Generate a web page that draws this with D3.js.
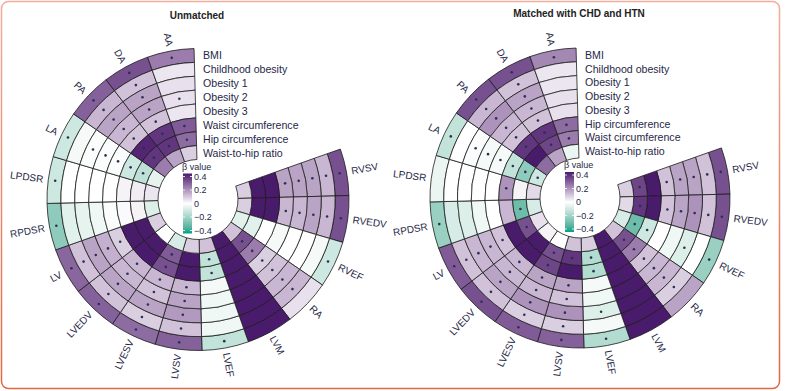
<!DOCTYPE html>
<html>
<head>
<meta charset="utf-8">
<script src="https://cdn.jsdelivr.net/npm/d3@7"></script>
<style>
  body { margin: 0; background: #fff; }
  svg { display: block; font-family: "Liberation Sans", Arial, sans-serif; }
</style>
</head>
<body>
<div id="chart"></div>
<script>
// Circular heatmaps: beta of obesity traits on cardiac measures

// Sectors, clockwise from the gap
var columns = ["RVSV", "RVEDV", "RVEF", "RA", "LVM", "LVEF", "LVSV", "LVESV",
               "LVEDV", "LV", "RPDSR", "LPDSR", "LA", "PA", "DA", "AA"];

// Rings, outermost first
var unmatchedRows = ["BMI", "Childhood obesity", "Obesity 1", "Obesity 2", "Obesity 3",
                     "Waist circumference", "Hip circumference", "Waist-to-hip ratio"];
var matchedRows = ["BMI", "Childhood obesity", "Obesity 1", "Obesity 2", "Obesity 3",
                   "Hip circumference", "Waist circumference", "Waist-to-hip ratio"];

// beta values, one array per ring, in column order
var unmatchedBeta = [
  [0.30, 0.30, -0.10, 0.05, 0.42, -0.12, 0.27, 0.25, 0.27, 0.26, -0.22, -0.10, -0.10, 0.27, 0.30, 0.22],
  [0.12, 0.12, -0.02, 0.12, 0.42, -0.03, 0.10, 0.08, 0.10, 0.10, -0.06, 0.00, -0.02, 0.12, 0.10, 0.04],
  [0.15, 0.15, 0.00, 0.12, 0.42, -0.03, 0.17, 0.15, 0.15, 0.15, -0.05, 0.00, -0.01, 0.15, 0.15, 0.05],
  [0.15, 0.12, 0.00, 0.10, 0.42, -0.03, 0.15, 0.10, 0.12, 0.13, -0.03, 0.00, -0.01, 0.12, 0.15, 0.05],
  [0.15, 0.12, -0.02, 0.08, 0.42, -0.02, 0.12, 0.12, 0.12, 0.08, -0.01, 0.00, -0.01, 0.10, 0.10, 0.04],
  [0.42, 0.42, 0.00, 0.22, 0.42, -0.12, 0.42, 0.30, 0.42, 0.42, 0.01, 0.02, -0.10, 0.38, 0.35, 0.28],
  [0.42, 0.42, -0.06, 0.30, 0.42, -0.12, 0.42, 0.28, 0.42, 0.42, 0.02, 0.03, -0.13, 0.35, 0.35, 0.25],
  [0.08, 0.08, -0.06, 0.10, 0.42, 0.10, 0.08, -0.08, 0.00, 0.08, -0.07, 0.04, -0.05, 0.22, 0.15, 0.08]
];
var unmatchedSig = [
  [1,1,1,0,1,1,1,1,1,1,1,1,1,1,1,1],
  [1,1,0,1,1,0,1,1,1,1,0,0,0,1,1,0],
  [1,1,0,1,1,0,1,1,1,1,0,0,1,1,1,0],
  [1,1,0,1,1,0,1,1,1,1,0,0,1,1,1,1],
  [1,1,0,1,1,0,1,1,1,1,0,0,1,1,1,0],
  [1,1,0,1,1,1,1,1,1,1,0,0,1,1,1,1],
  [1,1,0,1,1,1,1,1,1,1,0,0,1,1,1,1],
  [0,0,0,0,1,0,0,0,0,0,0,0,0,0,0,0]
];

var matchedBeta = [
  [0.30, 0.30, -0.20, 0.15, 0.42, -0.15, 0.27, 0.28, 0.30, 0.28, -0.20, -0.04, -0.12, 0.30, 0.30, 0.20],
  [0.10, 0.10, 0.00, 0.08, 0.42, -0.02, 0.08, 0.08, 0.10, 0.10, -0.08, 0.00, 0.00, 0.12, 0.10, 0.04],
  [0.15, 0.18, -0.07, 0.12, 0.42, -0.07, 0.18, 0.18, 0.15, 0.12, -0.07, 0.00, -0.01, 0.18, 0.15, 0.04],
  [0.15, 0.15, -0.03, 0.12, 0.42, -0.03, 0.10, 0.12, 0.12, 0.12, -0.03, 0.00, -0.02, 0.12, 0.12, 0.05],
  [0.10, 0.10, 0.00, 0.10, 0.42, -0.02, 0.15, 0.15, 0.12, 0.10, 0.00, 0.00, -0.02, 0.10, 0.10, 0.05],
  [0.42, 0.42, -0.10, 0.22, 0.42, -0.15, 0.42, 0.32, 0.42, 0.42, 0.12, 0.18, -0.12, 0.35, 0.35, 0.25],
  [0.32, 0.35, -0.28, 0.30, 0.42, -0.15, 0.35, 0.30, 0.40, 0.30, -0.28, 0.02, -0.22, 0.42, 0.32, 0.22],
  [0.08, 0.06, -0.08, 0.10, 0.42, 0.08, 0.10, 0.00, 0.02, 0.05, -0.08, 0.06, -0.10, 0.25, 0.15, -0.04]
];
var matchedSig = [
  [1,1,1,0,1,1,1,1,1,1,1,0,1,1,1,1],
  [1,1,0,1,1,0,1,1,1,1,0,0,0,1,1,0],
  [1,1,1,1,1,1,1,1,1,1,0,0,1,1,1,0],
  [1,1,0,1,1,0,1,1,1,1,0,0,1,1,1,0],
  [1,1,0,1,1,0,1,1,1,1,0,0,1,1,1,0],
  [1,1,1,1,1,1,1,1,1,1,0,1,1,1,1,1],
  [1,1,1,1,1,1,1,1,1,1,1,0,1,1,1,1],
  [0,0,0,0,1,0,0,0,0,0,0,0,1,0,0,0]
];

var legendTicks = [0.4, 0.2, 0, -0.2, -0.4];

var width = 787, height = 391;
var textColor = "#1f2847";

var svg = d3.select("#chart").append("svg")
    .attr("width", width)
    .attr("height", height);

var defs = svg.append("defs");

// frame round both panels
var frameGrad = defs.append("linearGradient")
    .attr("id", "frameGrad")
    .attr("x1", 0).attr("y1", 0).attr("x2", 0).attr("y2", 1);
frameGrad.append("stop").attr("offset", "0%").attr("stop-color", "#f3ad9c");
frameGrad.append("stop").attr("offset", "100%").attr("stop-color", "#e2673f");

svg.append("rect")
    .attr("x", 1.5).attr("y", 1.5)
    .attr("width", 778).attr("height", 387)
    .attr("rx", 7)
    .attr("fill", "none")
    .attr("stroke", "url(#frameGrad)")
    .attr("stroke-width", 1.5);

var color = d3.scaleLinear()
    .domain([-0.4, 0, 0.4])
    .range(["#00a088", "#ffffff", "#4a1a6c"])
    .interpolate(d3.interpolateLab)
    .clamp(true);

// legend gradient (top = 0.4)
var legGrad = defs.append("linearGradient")
    .attr("id", "legGrad")
    .attr("x1", 0).attr("y1", 0).attr("x2", 0).attr("y2", 1);
d3.range(0, 1.0001, 0.1).forEach(function(t) {
  legGrad.append("stop")
      .attr("offset", (t * 100) + "%")
      .attr("stop-color", color(0.4 - 0.8 * t));
});

var deg = Math.PI / 180;

function drawPanel(p) {
  var g = svg.append("g").attr("transform", `translate(${p.cx},${p.cy})`);

  var angle = d3.scaleBand()
      .domain(columns)
      .range([70.5 * deg, 358.5 * deg]);

  var radius = d3.scaleBand()
      .domain(p.rows)
      .range([p.outer, p.inner]);

  var cells = [];
  p.rows.forEach(function(row, i) {
    columns.forEach(function(col, j) {
      cells.push({ row: row, col: col, value: p.beta[i][j], sig: p.sig[i][j] });
    });
  });

  var arc = d3.arc()
      .innerRadius(d => radius(d.row))
      .outerRadius(d => radius(d.row) + radius.bandwidth())
      .startAngle(d => angle(d.col))
      .endAngle(d => angle(d.col) + angle.bandwidth());

  g.selectAll("path.cell")
      .data(cells)
      .enter()
      .append("path")
      .attr("class", "cell")
      .attr("d", arc)
      .attr("fill", d => color(d.value))
      .attr("stroke", "#1c1c1c")
      .attr("stroke-width", 0.8);

  // significance dots
  g.selectAll("circle.sig")
      .data(cells.filter(d => d.sig))
      .enter()
      .append("circle")
      .attr("class", "sig")
      .attr("cx", d => arc.centroid(d)[0])
      .attr("cy", d => arc.centroid(d)[1])
      .attr("r", 1.3)
      .attr("fill", "#2c3152");

  // ring labels in the gap
  g.selectAll("text.rowLabel")
      .data(p.rows)
      .enter()
      .append("text")
      .attr("class", "rowLabel")
      .attr("x", 5)
      .attr("y", d => -(radius(d) + radius.bandwidth() / 2))
      .attr("dominant-baseline", "central")
      .attr("font-size", 10.6)
      .attr("fill", textColor)
      .text(d => d);

  // sector labels outside
  g.selectAll("text.colLabel")
      .data(columns)
      .enter()
      .append("text")
      .attr("class", "colLabel")
      .attr("transform", function(d) {
        var a = angle(d) + angle.bandwidth() / 2;
        var r = p.outer + 5;
        var x = Math.sin(a) * r, y = -Math.cos(a) * r;
        var dg = a / deg;
        var rot = dg < 180 ? dg - 90 : dg - 270;
        return `translate(${x},${y})rotate(${rot})`;
      })
      .attr("text-anchor", function(d) {
        var dg = (angle(d) + angle.bandwidth() / 2) / deg;
        return dg < 180 ? "start" : "end";
      })
      .attr("dominant-baseline", "central")
      .attr("font-size", 10)
      .attr("fill", textColor)
      .text(d => d);

  // title
  svg.append("text")
      .attr("x", p.titleX)
      .attr("y", p.titleY)
      .attr("text-anchor", "middle")
      .attr("font-size", 10)
      .attr("font-weight", "bold")
      .attr("fill", "#222")
      .text(p.title);

  // legend in the hole
  var legY = d3.scaleLinear().domain([-0.4, 0.4]).range([31, -23]);
  var leg = g.append("g").attr("transform", "translate(-15,0)");
  leg.append("text")
      .attr("x", -1)
      .attr("y", -30)
      .attr("font-size", 9)
      .attr("fill", textColor)
      .text("β value");
  leg.append("rect")
      .attr("x", 0)
      .attr("y", legY(0.4) - 3)
      .attr("width", 9)
      .attr("height", legY(-0.4) - legY(0.4) + 6)
      .attr("fill", "url(#legGrad)");
  legendTicks.forEach(function(t) {
    leg.append("line")
        .attr("x1", 0).attr("x2", 2)
        .attr("y1", legY(t)).attr("y2", legY(t))
        .attr("stroke", "#fff").attr("stroke-width", 0.8);
    leg.append("line")
        .attr("x1", 7).attr("x2", 9)
        .attr("y1", legY(t)).attr("y2", legY(t))
        .attr("stroke", "#fff").attr("stroke-width", 0.8);
  });
  leg.selectAll("text.tick")
      .data(legendTicks)
      .enter()
      .append("text")
      .attr("class", "tick")
      .attr("x", 11)
      .attr("y", d => legY(d))
      .attr("dominant-baseline", "central")
      .attr("font-size", 9)
      .attr("fill", textColor)
      .text(d => d === 0 ? "0" : (d < 0 ? "\u2212" + Math.abs(d) : d));
}

drawPanel({
  cx: 198, cy: 199.5, outer: 151, inner: 40,
  rows: unmatchedRows, beta: unmatchedBeta, sig: unmatchedSig,
  title: "Unmatched", titleX: 197, titleY: 19
});

drawPanel({
  cx: 580, cy: 198, outer: 150, inner: 40,
  rows: matchedRows, beta: matchedBeta, sig: matchedSig,
  title: "Matched with CHD and HTN", titleX: 579, titleY: 17
});
</script>
</body>
</html>
